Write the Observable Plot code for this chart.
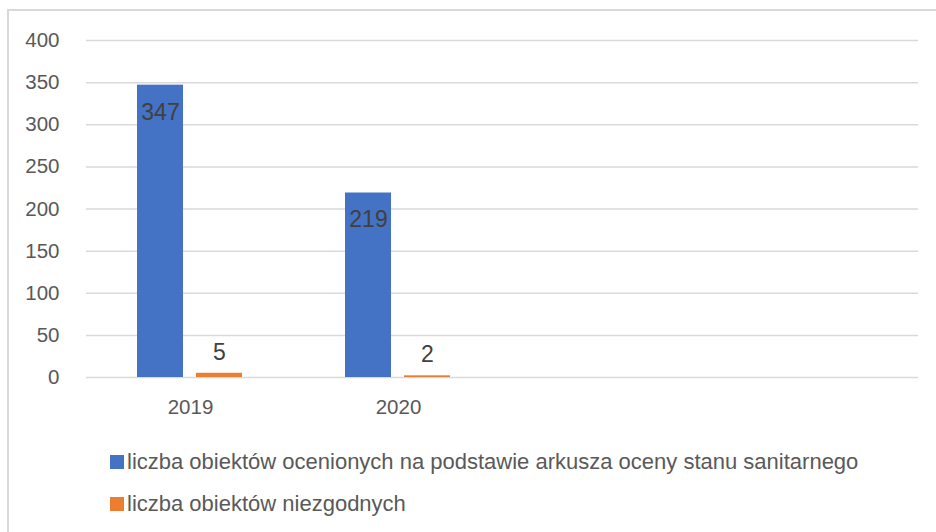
<!DOCTYPE html>
<html>
<head>
<meta charset="utf-8">
<script src="https://cdn.jsdelivr.net/npm/d3@7"></script>
<script src="https://cdn.jsdelivr.net/npm/@observablehq/plot@0.6"></script>
<style>
  html, body { margin: 0; padding: 0; background: #fff; width: 936px; height: 532px; overflow: hidden; }
  #frame { position: absolute; left: 7px; top: 9px; width: 960px; height: 600px; border: 2px solid #d9d9d9; box-sizing: border-box; }
  #chart { position: absolute; left: 0; top: 0; }
  .legend-item { position: absolute; display: flex; align-items: center; font-family: "Liberation Sans", sans-serif; font-size: 22px; color: #595959; white-space: nowrap; }
  .sw { width: 14px; height: 14px; margin-right: 3px; }
</style>
</head>
<body>
<div id="frame"></div>
<div id="chart"></div>
<div id="legend"></div>
<script>
const years = ["2019", "2020"];
const categorySlots = ["2019", "2020", " ", "  "];
const assessed = [347, 219];
const nonCompliant = [5, 2];
const seriesNames = [
  "liczba obiektów ocenionych na podstawie arkusza oceny stanu sanitarnego",
  "liczba obiektów niezgodnych"
];
const seriesColors = ["#4472C4", "#ED7D31"];
const yTicks = [0, 50, 100, 150, 200, 250, 300, 350, 400];

const rows = [];
years.forEach((y, i) => {
  rows.push({year: y, series: seriesNames[0], value: assessed[i]});
  rows.push({year: y, series: seriesNames[1], value: nonCompliant[i]});
});
const gridRows = [];
categorySlots.forEach(slot => yTicks.forEach(t => gridRows.push({slot, t})));

const font = "Liberation Sans, sans-serif";

const chart = Plot.plot({
  width: 936,
  height: 430,
  marginTop: 40,
  marginBottom: 53,
  marginLeft: 85,
  marginRight: 17,
  style: {fontFamily: font, fontSize: "20.5px", color: "#595959", background: "transparent"},
  fx: {domain: categorySlots, padding: 0, paddingOuter: 0, axis: "bottom", label: null, tickSize: 0, tickPadding: 22},
  x: {domain: seriesNames, paddingInner: 0.217, paddingOuter: 0.842, axis: null},
  y: {domain: [0, 400], ticks: yTicks, label: null, tickSize: 0, tickPadding: 27},
  color: {domain: seriesNames, range: seriesColors},
  marks: [
    Plot.ruleY(gridRows, {fx: "slot", y: "t", stroke: "#d9d9d9", strokeWidth: 1.5}),
    Plot.barY(rows, {fx: "year", x: "series", y: "value", fill: "series"}),
    Plot.text(rows.filter(d => d.series === seriesNames[0]), {fx: "year", x: "series", y: "value", text: d => String(d.value), dy: 27, fill: "#404040", fontSize: 23}),
    Plot.text(rows.filter(d => d.series === seriesNames[1]), {fx: "year", x: "series", y: "value", text: d => String(d.value), dy: -21, fill: "#404040", fontSize: 23})
  ]
});
document.getElementById("chart").appendChild(chart);

const legend = document.getElementById("legend");
const tops = [449, 491];
seriesNames.forEach((name, i) => {
  const item = document.createElement("div");
  item.className = "legend-item";
  item.style.left = "110px";
  item.style.top = tops[i] + "px";
  item.style.height = "26px";
  const sw = document.createElement("span");
  sw.className = "sw";
  sw.style.background = seriesColors[i];
  const t = document.createElement("span");
  t.textContent = name;
  item.appendChild(sw);
  item.appendChild(t);
  legend.appendChild(item);
});
</script>
</body>
</html>
